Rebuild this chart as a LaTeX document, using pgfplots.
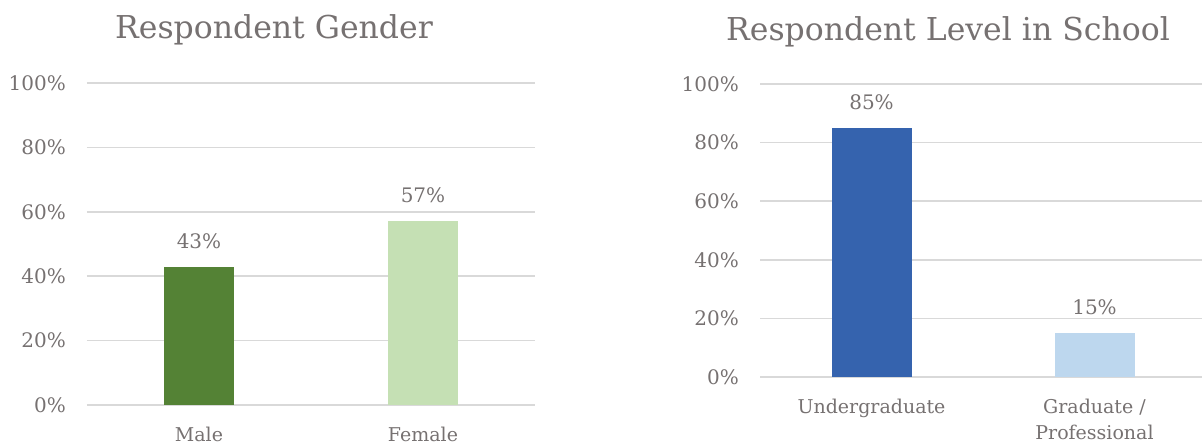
\documentclass[border=0pt]{standalone}
\usepackage{fontspec}
\setmainfont{DejaVu Serif}
\usepackage{pgfplots}
\pgfplotsset{compat=1.18}
\definecolor{txt}{HTML}{767171}
\definecolor{gridc}{HTML}{D9D9D9}
\definecolor{dgreen}{HTML}{548235}
\definecolor{lgreen}{HTML}{C5E0B4}
\definecolor{dblue}{HTML}{3563AE}
\definecolor{lblue}{HTML}{BDD7EE}
\pgfplotsset{
  mystyle/.style={
    scale only axis,
    anchor=south west,
    ybar, bar shift=0pt,
    ymin=0, ymax=100,
    ytick={0,20,40,60,80,100},
    xmin=-0.5, xmax=1.5,
    xtick={0,1},
    axis line style={draw=none},
    major tick length=0pt,
    ymajorgrids=true, xmajorgrids=false,
    major grid style={draw=gridc, line width=1.5pt},
    /pgf/number format/assume math mode=true,
    yticklabel={\pgfmathprintnumber{\tick}\%},
    yticklabel style={font=\fontsize{20}{24}\selectfont, text=txt, anchor=east, inner sep=0pt, xshift=-21pt},
    xticklabel style={font=\fontsize{19}{26}\selectfont, text=txt, anchor=north, inner sep=0pt, yshift=-22pt, align=center},
    nodes near coords={\pgfmathprintnumber{\pgfplotspointmeta}\%},
    nodes near coords style={font=\fontsize{20}{24}\selectfont, text=txt, anchor=south, inner sep=0pt, yshift=18pt},
    every axis plot/.append style={draw=none},
  }
}
\begin{document}
\begin{tikzpicture}[x=1pt,y=1pt]
\useasboundingbox (0,0) rectangle (1202,447);
\begin{axis}[mystyle, at={(87pt,42pt)}, width=448pt, height=322pt, bar width=70pt,
  xticklabels={Male,Female}]
\addplot[fill=dgreen] coordinates {(0,43)};
\addplot[fill=lgreen] coordinates {(1,57)};
\end{axis}
\begin{axis}[mystyle, at={(760pt,70pt)}, width=446pt, height=293pt, bar width=80pt,
  xticklabels={Undergraduate,{Graduate /\\Professional}}]
\addplot[fill=dblue] coordinates {(0,85)};
\addplot[fill=lblue] coordinates {(1,15)};
\end{axis}
\node[text=txt, font=\fontsize{31.5}{36}\selectfont] at (274,417) {Respondent Gender};
\node[text=txt, font=\fontsize{31.5}{36}\selectfont] at (948,415) {Respondent Level in School};
\end{tikzpicture}
\end{document}
